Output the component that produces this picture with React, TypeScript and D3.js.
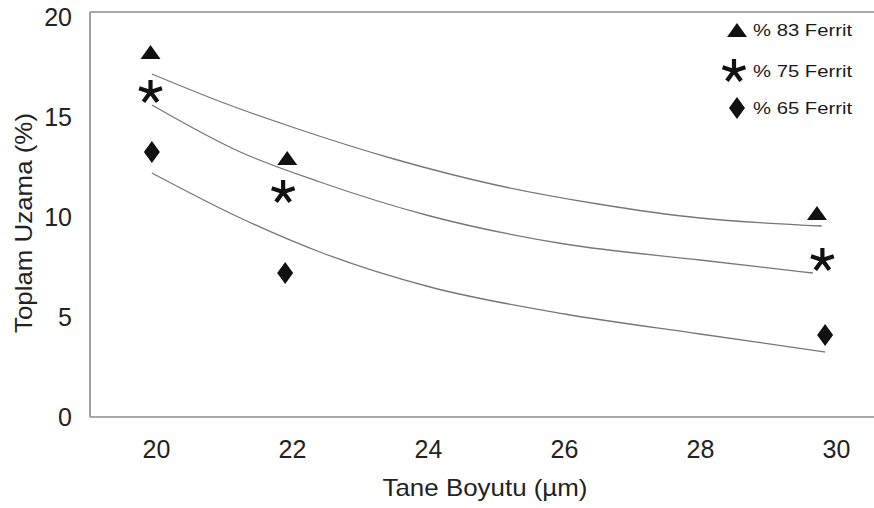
import { useEffect, useRef } from "react";
import * as d3 from "d3";

// tick labels
const xTicks = [20, 22, 24, 26, 28, 30];
const yTicks = [0, 5, 10, 15, 20];

// measured points
const ferrit83X = [19.92, 21.93, 29.72];
const ferrit83Y = [18.25, 12.95, 10.2];
const ferrit75X = [19.92, 21.87, 29.8];
const ferrit75Y = [16.25, 11.25, 7.85];
const ferrit65X = [19.94, 21.9, 29.84];
const ferrit65Y = [13.25, 7.2, 4.1];

// trend lines
const trend83X = [19.94, 21.0, 22.0, 23.5, 25.0, 26.5, 28.0, 29.79];
const trend83Y = [17.15, 15.7, 14.5, 12.9, 11.6, 10.65, 9.95, 9.55];
const trend75X = [19.94, 21.24, 22.41, 24.03, 26.01, 28.0, 29.66];
const trend75Y = [15.6, 13.25, 11.75, 10.05, 8.65, 7.85, 7.2];
const trend65X = [19.94, 21.24, 22.41, 24.03, 26.01, 28.0, 29.84];
const trend65Y = [12.2, 9.95, 8.25, 6.5, 5.15, 4.15, 3.25];

const legendLabels = ["% 83 Ferrit", "% 75 Ferrit", "% 65 Ferrit"];

const triangle = "M0,-7L10,7L-10,7Z";
const diamond = "M0,-11L8,0L0,11L-8,0Z";
const asterisk = (r0) => {
  const p = d3.path();
  [-90, -18, 54, 126, 198].forEach((a) => {
    const r = (a * Math.PI) / 180;
    p.moveTo(0, 0);
    p.lineTo(r0 * Math.cos(r), r0 * Math.sin(r));
  });
  return p.toString();
};

const drawMarker = (g, kind, x, y) => {
  if (kind === "ast") {
    g.append("path")
      .attr("d", asterisk(12))
      .attr("transform", `translate(${x},${y})`)
      .attr("stroke", "#111")
      .attr("stroke-width", 4.2)
      .attr("fill", "none");
  } else {
    g.append("path")
      .attr("d", kind === "tri" ? triangle : diamond)
      .attr("transform", `translate(${x},${y})`)
      .attr("fill", "#111");
  }
};

const App = () => {
  const width = 874;
  const height = 508;
  const svgRef = useRef(null);

  useEffect(() => {
    const svg = d3.select(svgRef.current);
    svg.selectAll("*").remove();

    const x = d3.scaleLinear().domain([19.03, 30.5]).range([90, 870]);
    const y = d3.scaleLinear().domain([0, 20.25]).range([417, 12]);
    const font = "Liberation Sans, Arial, sans-serif";

    // frame (left, top, bottom; open to the right)
    const frame = svg.append("g").attr("stroke", "#8c8c8c").attr("stroke-width", 1.6);
    frame.append("line").attr("x1", 90).attr("x2", 90).attr("y1", 12).attr("y2", 417);
    frame.append("line").attr("x1", 90).attr("x2", width).attr("y1", 12).attr("y2", 12);
    frame.append("line").attr("x1", 90).attr("x2", width).attr("y1", 417).attr("y2", 417);

    const yAxis = d3.axisLeft(y).tickValues(yTicks).tickSize(0).tickPadding(18);
    const yg = svg.append("g").attr("transform", "translate(90,0)").call(yAxis);
    yg.select(".domain").remove();
    yg.selectAll("text").style("font-family", font).style("font-size", "25px").attr("fill", "#222");

    const xAxis = d3.axisBottom(x).tickValues(xTicks).tickSize(0).tickPadding(23);
    const xg = svg.append("g").attr("transform", "translate(0,417)").call(xAxis);
    xg.select(".domain").remove();
    xg.selectAll("text").style("font-family", font).style("font-size", "25px").attr("fill", "#222");

    svg
      .append("text")
      .attr("x", 485)
      .attr("y", 496)
      .attr("text-anchor", "middle")
      .style("font-family", font)
      .style("font-size", "24px")
      .attr("fill", "#222")
      .attr("textLength", 205)
      .attr("lengthAdjust", "spacingAndGlyphs")
      .text("Tane Boyutu (µm)");

    svg
      .append("text")
      .attr("transform", "rotate(-90)")
      .attr("x", -223)
      .attr("y", 32)
      .attr("text-anchor", "middle")
      .style("font-family", font)
      .style("font-size", "24px")
      .attr("fill", "#222")
      .attr("textLength", 220)
      .attr("lengthAdjust", "spacingAndGlyphs")
      .text("Toplam Uzama (%)");

    // trend lines
    const line = d3
      .line()
      .x((d) => x(d[0]))
      .y((d) => y(d[1]))
      .curve(d3.curveMonotoneX);
    [
      [trend83X, trend83Y],
      [trend75X, trend75Y],
      [trend65X, trend65Y],
    ].forEach(([xs, ys]) => {
      svg
        .append("path")
        .attr("d", line(xs.map((v, i) => [v, ys[i]])))
        .attr("fill", "none")
        .attr("stroke", "#777")
        .attr("stroke-width", 1.3);
    });

    // markers
    const pts = svg.append("g");
    ferrit83X.forEach((v, i) => drawMarker(pts, "tri", x(v), y(ferrit83Y[i])));
    ferrit75X.forEach((v, i) => drawMarker(pts, "ast", x(v), y(ferrit75Y[i])));
    ferrit65X.forEach((v, i) => drawMarker(pts, "dia", x(v), y(ferrit65Y[i])));

    // legend
    const legend = svg.append("g");
    const kinds = ["tri", "ast", "dia"];
    const rows = [30, 71, 108];
    legendLabels.forEach((label, i) => {
      drawMarker(legend, kinds[i], i === 1 ? 734 : 737, rows[i]);
      legend
        .append("text")
        .attr("x", 753)
        .attr("y", rows[i] + 6)
        .style("font-family", font)
        .style("font-size", "16.5px")
        .attr("fill", "#1a1a1a")
        .attr("textLength", 99)
        .attr("lengthAdjust", "spacingAndGlyphs")
        .text(label);
    });
  }, []);

  return (
    <svg
      ref={svgRef}
      width={width}
      height={height}
      style={{ position: "absolute", left: 0, top: 0, background: "#fff" }}
    ></svg>
  );
};

export default App;
